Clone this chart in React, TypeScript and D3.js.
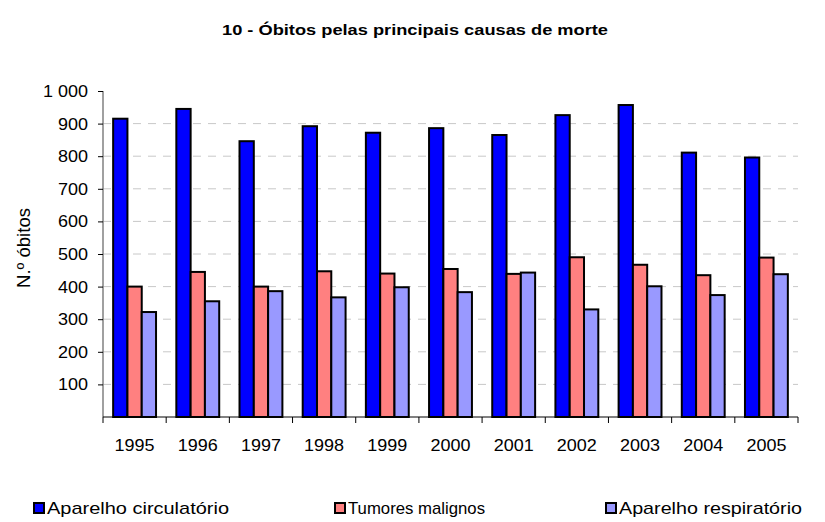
import React, { useEffect, useRef } from 'react';
import * as d3 from 'd3';

const years = ['1995', '1996', '1997', '1998', '1999', '2000', '2001', '2002', '2003', '2004', '2005'];
const circulatorio = [915, 945, 846, 892, 872, 886, 865, 926, 957, 811, 796];
const tumores = [400, 445, 400, 447, 440, 454, 439, 490, 467, 435, 489];
const respiratorio = [322, 355, 386, 367, 398, 383, 443, 330, 401, 374, 438];
const seriesNames = ['Aparelho circulatório', 'Tumores malignos', 'Aparelho respiratório'];
const seriesColors = ['#0000ff', '#ff8080', '#9999ff'];
const yTicks = [0, 100, 200, 300, 400, 500, 600, 700, 800, 900, 1000];

// width of a number label, Excel-style wide digits
const numWidth = (s: string) => s.replace(/ /g, '').length * 10 + (s.split(' ').length - 1) * 5;

export default function App() {
  const ref = useRef<SVGSVGElement>(null);

  useEffect(() => {
    const width = 825;
    const height = 522;
    const margin = { top: 91, bottom: 105, left: 103, right: 27 };
    const font = 'Arial, "Liberation Sans", sans-serif';

    const svg = d3.select(ref.current);
    svg.selectAll('*').remove();

    const values = [circulatorio, tumores, respiratorio];

    const xScale = d3
      .scaleBand()
      .domain(years)
      .range([margin.left, width - margin.right])
      .paddingInner(0)
      .paddingOuter(0);

    const innerScale = d3
      .scaleBand()
      .domain(seriesNames)
      .range([0, xScale.bandwidth()])
      .paddingOuter(0.71)
      .paddingInner(0);

    const yScale = d3
      .scaleLinear()
      .domain([0, 1000])
      .range([height - margin.bottom, margin.top]);

    // title
    svg
      .append('text')
      .attr('x', 222)
      .attr('y', 35)
      .attr('font-family', font)
      .attr('font-weight', 'bold')
      .attr('font-size', 15)
      .attr('textLength', 386)
      .attr('lengthAdjust', 'spacingAndGlyphs')
      .text('10 - Óbitos pelas principais causas de morte');

    // gridlines
    svg
      .append('g')
      .selectAll('line')
      .data(yTicks.filter((t) => t > 0 && t < 1000))
      .enter()
      .append('line')
      .attr('x1', margin.left)
      .attr('x2', width - margin.right)
      .attr('y1', (d) => yScale(d))
      .attr('y2', (d) => yScale(d))
      .attr('stroke', '#c8c8c8')
      .attr('stroke-width', 1)
      .attr('stroke-dasharray', '8,7');

    // bars
    svg
      .append('g')
      .selectAll('g')
      .data(years)
      .enter()
      .append('g')
      .attr('transform', (d) => `translate(${xScale(d)},0)`)
      .selectAll('rect')
      .data((_d, i) => seriesNames.map((s, j) => ({ s, j, v: values[j][i] })))
      .enter()
      .append('rect')
      .attr('x', (d) => innerScale(d.s) as number)
      .attr('y', (d) => yScale(d.v))
      .attr('width', innerScale.bandwidth())
      .attr('height', (d) => yScale(0) - yScale(d.v))
      .attr('fill', (d) => seriesColors[d.j])
      .attr('stroke', '#000')
      .attr('stroke-width', 2);

    // y axis
    const fmt = (d: number) => d3.format(',')(d).replace(',', ' ');
    const yAxis = d3
      .axisLeft(yScale)
      .tickValues(yTicks.filter((t) => t > 0))
      .tickSize(5)
      .tickPadding(10)
      .tickFormat((d) => fmt(d as number));
    const gy = svg
      .append('g')
      .attr('transform', `translate(${margin.left},0)`)
      .call(yAxis);
    gy.select('.domain').attr('stroke', '#808080').attr('stroke-width', 1.5).attr('d', `M0,${yScale(1000)}V${yScale(0)}`);
    gy.selectAll('.tick line').attr('stroke', '#000');
    gy.selectAll<SVGTextElement, number>('.tick text')
      .attr('font-family', font)
      .attr('font-size', 17)
      .attr('fill', '#000')
      .attr('textLength', (d) => numWidth(fmt(d)))
      .attr('lengthAdjust', 'spacingAndGlyphs');

    // x axis
    const gx = svg.append('g').attr('transform', `translate(0,${yScale(0)})`);
    gx.append('line')
      .attr('x1', margin.left)
      .attr('x2', width - margin.right)
      .attr('stroke', '#000')
      .attr('stroke-width', 1);
    gx.selectAll('.xt')
      .data([...years.map((y) => xScale(y) as number), width - margin.right])
      .enter()
      .append('line')
      .attr('x1', (d) => d)
      .attr('x2', (d) => d)
      .attr('y1', 0)
      .attr('y2', 6)
      .attr('stroke', '#000');
    gx.selectAll('text')
      .data(years)
      .enter()
      .append('text')
      .attr('x', (d) => (xScale(d) as number) + xScale.bandwidth() / 2)
      .attr('y', 34)
      .attr('text-anchor', 'middle')
      .attr('font-family', font)
      .attr('font-size', 17)
      .attr('textLength', 40)
      .attr('lengthAdjust', 'spacingAndGlyphs')
      .text((d) => d);

    // y label
    svg
      .append('text')
      .attr('transform', `translate(30,248) rotate(-90)`)
      .attr('text-anchor', 'middle')
      .attr('font-family', font)
      .attr('font-size', 18)
      .attr('textLength', 80)
      .attr('lengthAdjust', 'spacingAndGlyphs')
      .text('N.º óbitos');

    // legend
    const legendX = [34, 335, 606];
    const legendW = [182, 137, 183];
    const lg = svg
      .append('g')
      .selectAll('g')
      .data(seriesNames)
      .enter()
      .append('g')
      .attr('transform', (_d, i) => `translate(${legendX[i]},503)`);
    lg.append('rect')
      .attr('width', 10)
      .attr('height', 10)
      .attr('fill', (_d, i) => seriesColors[i])
      .attr('stroke', '#000')
      .attr('stroke-width', 2);
    lg.append('text')
      .attr('x', 13)
      .attr('y', 11)
      .attr('font-family', font)
      .attr('font-size', 17)
      .attr('textLength', (_d, i) => legendW[i])
      .attr('lengthAdjust', 'spacingAndGlyphs')
      .text((d) => d);
  }, []);

  return <svg ref={ref} width={825} height={522} style={{ display: 'block', position: 'absolute', left: 0, top: 0 }} />;
}
